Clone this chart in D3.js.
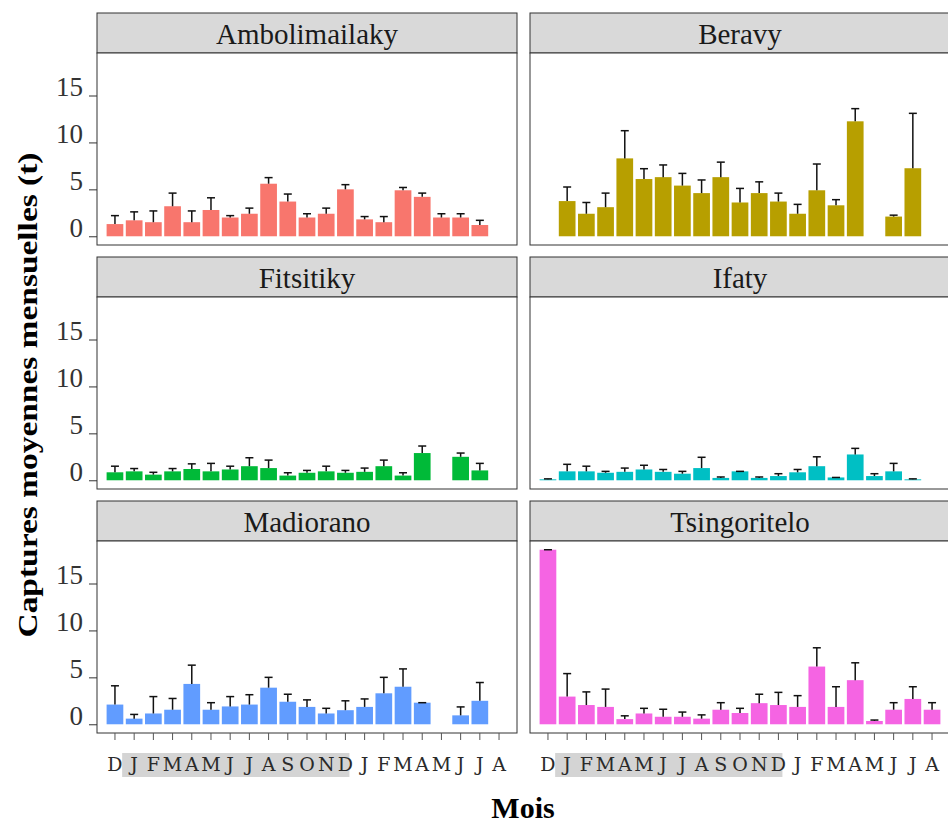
<!DOCTYPE html>
<html>
<head>
<meta charset="utf-8">
<title>Captures moyennes mensuelles</title>
<script src="https://cdn.jsdelivr.net/npm/d3@7"></script>
<style>
  body { margin: 0; background: #fff; }
  svg { display: block; }
</style>
</head>
<body>
<script>
// mois, de décembre à août de l'année suivante
const months = ["D","J","F","M","A","M","J","J","A","S","O","N","D","J","F","M","A","M","J","J","A"];
const sites = ["Ambolimailaky","Beravy","Fitsitiky","Ifaty","Madiorano","Tsingoritelo"];
const siteColors = ["#F8766D","#B79F00","#00BA38","#00BFC4","#619CFF","#F564E3"];
const yTicks = [0, 5, 10, 15];

// moyennes (t) et erreur standard, null = pas de données
const ambolimailakyMean = [1.3,1.7,1.5,3.2,1.5,2.8,2.0,2.4,5.6,3.7,2.0,2.4,5.0,1.8,1.5,4.9,4.2,2.0,2.0,1.2,null];
const ambolimailakySe   = [0.9,0.9,1.2,1.4,1.2,1.3,0.2,0.6,0.65,0.8,0.4,0.6,0.5,0.3,0.6,0.3,0.4,0.4,0.4,0.5,null];
const beravyMean = [null,3.75,2.4,3.1,8.3,6.1,6.3,5.4,4.6,6.3,3.6,4.6,3.7,2.4,4.9,3.3,12.25,null,2.1,7.25,null];
const beravySe   = [null,1.5,1.2,1.5,2.95,1.1,1.3,1.3,1.4,1.6,1.5,1.2,0.9,1.0,2.8,0.6,1.35,null,0.15,5.85,null];
const fitsitikyMean = [0.85,0.95,0.6,0.95,1.2,0.95,1.15,1.5,1.3,0.5,0.8,0.95,0.8,0.9,1.5,0.5,2.9,null,2.5,1.05,null];
const fitsitikySe   = [0.65,0.3,0.25,0.3,0.55,0.85,0.35,0.9,0.85,0.3,0.25,0.55,0.25,0.4,0.65,0.3,0.75,null,0.4,0.75,null];
const ifatyMean = [0.1,0.95,0.95,0.8,0.9,1.15,0.9,0.7,1.3,0.25,0.95,0.25,0.45,0.85,1.5,0.3,2.75,0.45,0.95,0.1,null];
const ifatySe   = [0.05,0.75,0.55,0.15,0.4,0.45,0.25,0.25,1.15,0.1,0.0,0.1,0.25,0.3,1.0,0.0,0.65,0.25,0.85,0.05,null];
const madioranoMean = [2.1,0.6,1.15,1.55,4.3,1.55,1.9,2.1,3.9,2.4,1.85,1.15,1.5,1.85,3.3,4.0,2.3,null,0.95,2.5,null];
const madioranoSe   = [2.0,0.45,1.8,1.2,2.0,0.75,1.05,1.05,1.1,0.8,0.75,0.55,1.0,0.85,1.7,1.9,0.0,null,0.9,1.95,null];
const tsingoriteloMean = [18.6,2.95,2.05,1.85,0.55,1.15,0.8,0.8,0.6,1.55,1.2,2.25,2.05,1.85,6.15,1.85,4.7,0.35,1.55,2.7,1.55];
const tsingoriteloSe   = [0.0,2.45,1.4,1.9,0.35,0.55,0.8,0.5,0.4,0.75,0.5,0.95,1.35,1.2,2.0,2.15,1.85,0.1,0.75,1.3,0.75];

const means = [ambolimailakyMean, beravyMean, fitsitikyMean, ifatyMean, madioranoMean, tsingoriteloMean];
const ses = [ambolimailakySe, beravySe, fitsitikySe, ifatySe, madioranoSe, tsingoriteloSe];

const W = 948, H = 827;
const colX = [97, 530], panelW = 420;
const stripTop = [13, 257, 501], stripH = 40, panelH = 192;
const serif = "'Liberation Serif', 'Times New Roman', serif";

const svg = d3.select('body').append('svg')
  .attr('width', W)
  .attr('height', H);

const idx = d3.range(months.length);
const yMax = d3.max(means.flat().filter(v => v != null));

sites.forEach((site, s) => {
  const col = s % 2, row = Math.floor(s / 2);
  const x0 = colX[col], top = stripTop[row] + stripH;

  const x = d3.scaleBand().domain(idx).range([x0, x0 + panelW]).paddingInner(0.13).paddingOuter(0.5);
  const y = d3.scaleLinear().domain([-0.05 * yMax, yMax * 1.05]).range([top + panelH, top]);

  const g = svg.append('g');

  // strip
  g.append('rect')
    .attr('x', x0).attr('y', stripTop[row])
    .attr('width', panelW).attr('height', stripH)
    .attr('fill', '#d9d9d9').attr('stroke', '#333').attr('stroke-width', 1);
  g.append('text')
    .attr('x', x0 + panelW / 2).attr('y', stripTop[row] + 31)
    .attr('text-anchor', 'middle')
    .style('font-family', serif).style('font-size', '29px').attr('fill', '#1a1a1a')
    .text(site);

  // panel
  g.append('rect')
    .attr('x', x0).attr('y', top)
    .attr('width', panelW).attr('height', panelH)
    .attr('fill', '#fff').attr('stroke', '#333').attr('stroke-width', 1);

  const data = idx.map(i => ({i: i, m: means[s][i], se: ses[s][i]})).filter(d => d.m != null);

  g.selectAll('.bar').data(data).enter().append('rect')
    .attr('class', 'bar')
    .attr('x', d => x(d.i))
    .attr('width', x.bandwidth())
    .attr('y', d => y(d.m))
    .attr('height', d => y(0) - y(d.m))
    .attr('fill', siteColors[s]);

  // barres d'erreur (partie haute)
  const cx = d => x(d.i) + x.bandwidth() / 2;
  g.selectAll('.err').data(data).enter().append('line')
    .attr('x1', cx).attr('x2', cx)
    .attr('y1', d => y(d.m)).attr('y2', d => y(d.m + d.se))
    .attr('stroke', '#111').attr('stroke-width', 1.5);
  g.selectAll('.cap').data(data).enter().append('line')
    .attr('x1', d => cx(d) - 4).attr('x2', d => cx(d) + 4)
    .attr('y1', d => y(d.m + d.se)).attr('y2', d => y(d.m + d.se))
    .attr('stroke', '#111').attr('stroke-width', 1.5);

  // axe y (colonne de gauche)
  if (col === 0) {
    const ay = g.append('g').attr('transform', 'translate(' + x0 + ',0)')
      .call(d3.axisLeft(y).tickValues(yTicks).tickSize(8).tickPadding(6));
    ay.select('.domain').remove();
    ay.selectAll('line').attr('stroke', '#333');
    ay.selectAll('text')
      .attr('dy', '0')
      .style('font-family', serif).style('font-size', '27px').attr('fill', '#333');
  }

  // axe x (dernière ligne)
  if (row === 2) {
    const by = top + panelH;
    g.append('rect')
      .attr('x', x(1) + x.bandwidth() / 2 - 12)
      .attr('width', x(12) - x(1) + 16)
      .attr('y', by + 20).attr('height', 24)
      .attr('fill', '#d4d4d4');
    const ax = g.append('g').attr('transform', 'translate(0,' + by + ')')
      .call(d3.axisBottom(x).tickSize(7).tickPadding(18).tickFormat(i => months[i]));
    ax.select('.domain').remove();
    ax.selectAll('line').attr('stroke', '#555');
    ax.selectAll('text')
      .style('font-family', "'DejaVu Serif', serif").style('font-size', '19px').attr('fill', '#2a2a2a');
  }
});

// titres des axes
svg.append('text')
  .attr('x', 523).attr('y', 818)
  .attr('text-anchor', 'middle')
  .style('font-family', serif).style('font-size', '30px').style('font-weight', 'bold')
  .text('Mois');

svg.append('text')
  .attr('transform', 'translate(37,395) rotate(-90)')
  .attr('text-anchor', 'middle')
  .attr('textLength', 485).attr('lengthAdjust', 'spacingAndGlyphs')
  .style('font-family', serif).style('font-size', '28px').style('font-weight', 'bold')
  .text('Captures moyennes mensuelles (t)');
</script>
</body>
</html>
